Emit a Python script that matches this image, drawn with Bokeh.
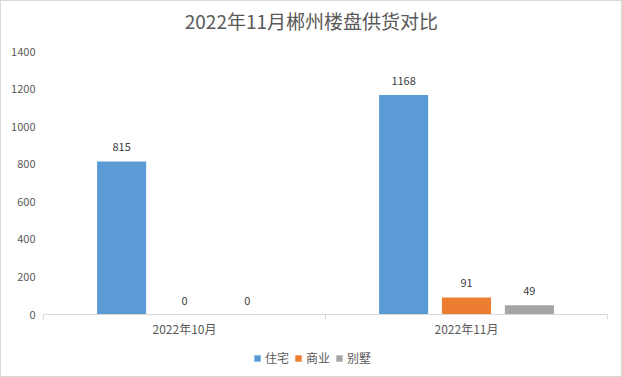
from bokeh.plotting import figure
from bokeh.models import (ColumnDataSource, FactorRange, Range1d, LinearAxis, FixedTicker,
                          LabelSet, Legend, LegendItem, Label)
from bokeh.layouts import column
from bokeh.transform import dodge
from bokeh.embed import file_html
from bokeh.resources import INLINE
from bokeh.core.properties import value

# ---- data ----
months = ["2022年10月", "2022年11月"]
series = ["住宅", "商业", "别墅"]
residential = [815, 1168]
commercial = [0, 91]
villa = [0, 49]
y_ticks = [0, 200, 400, 600, 800, 1000, 1200, 1400]
title_text = "2022年11月郴州楼盘供货对比"

colors = ["#5b9bd5", "#ed7d31", "#a5a5a5"]
FONT = "Noto Sans CJK SC"
GRID = "#d9d9d9"
TXT = "#595959"
W = 620


def strip(h):
    f = figure(width=W, height=h, output_backend="svg", toolbar_location=None,
               x_range=Range1d(0, 1), y_range=Range1d(0, 1), x_axis_type=None, y_axis_type=None,
               min_border=0, outline_line_color=None, background_fill_color="white",
               border_fill_color="white")
    f.grid.visible = False
    return f


# ---- title strip (its frame is aligned with the chart frame by the column layout) ----
p0 = strip(38)
p0.add_layout(Label(x=0.475, y=0.5, text=title_text, text_align="center", text_baseline="middle",
                    text_font=FONT, text_font_size="19px", text_color=TXT))

# ---- main chart ----
source = ColumnDataSource(dict(
    month=months,
    s0=residential, s1=commercial, s2=villa,
    t0=[str(v) for v in residential],
    t1=[str(v) for v in commercial],
    t2=[str(v) for v in villa],
))

p = figure(x_range=FactorRange(factors=months, range_padding=0),
           y_range=Range1d(y_ticks[0], y_ticks[-1]),
           width=W, height=300, output_backend="svg", toolbar_location=None,
           x_axis_type=None, y_axis_type=None,
           min_border_left=42, min_border_right=14, min_border_top=12, min_border_bottom=24,
           outline_line_color=None, background_fill_color="white", border_fill_color="white")

yaxis = LinearAxis(ticker=FixedTicker(ticks=y_ticks), axis_line_color=None,
                   major_tick_line_color=None, minor_tick_line_color=None,
                   major_tick_out=0, major_tick_in=0, major_label_standoff=8,
                   major_label_text_font=FONT, major_label_text_font_size="11px",
                   major_label_text_color=TXT)
p.add_layout(yaxis, "left")
p.ygrid.ticker = FixedTicker(ticks=y_ticks)
p.ygrid.grid_line_color = GRID
p.xgrid.visible = False

centres = [i + 0.5 for i in range(len(months))]
bounds = [i for i in range(len(months) + 1)]
xaxis = LinearAxis(ticker=FixedTicker(ticks=centres, minor_ticks=bounds),
                   major_label_overrides={c: m for c, m in zip(centres, months)},
                   axis_line_color=GRID, major_tick_line_color=None, major_tick_out=0, major_tick_in=0,
                   minor_tick_line_color=GRID, minor_tick_out=5, minor_tick_in=0,
                   major_label_standoff=0, major_label_text_font=FONT,
                   major_label_text_font_size="12px", major_label_text_color=TXT)
p.add_layout(xaxis, "below")

bar_w = 0.174
step = 0.223
for i, s in enumerate(series):
    off = (i - 1) * step
    p.vbar(x=dodge("month", off, range=p.x_range), top=f"s{i}", width=bar_w,
           source=source, fill_color=colors[i], line_color=None)
    labels = LabelSet(x=dodge("month", off, range=p.x_range), y=f"s{i}", text=f"t{i}",
                      source=source, text_align="center", text_baseline="middle",
                      y_offset=14, text_font=value(FONT), text_font_size=value("11px"),
                      text_color="#404040")
    p.add_layout(labels)

# ---- legend strip ----
p2 = strip(37)
dummy = ColumnDataSource(dict(x=[float("nan")], top=[float("nan")]))
leg_r = [p2.vbar(x="x", top="top", width=0.1, source=dummy, fill_color=c, line_color=None)
         for c in colors]
legend = Legend(items=[LegendItem(label=s, renderers=[r]) for s, r in zip(series, leg_r)],
                orientation="horizontal", location=(210, 10), border_line_color=None,
                background_fill_alpha=0, label_text_font=FONT, label_text_font_size="12px",
                label_text_color=TXT, glyph_width=8, glyph_height=8, label_standoff=4,
                spacing=5, padding=0, margin=0)
p2.add_layout(legend, "center")

layout = column(p0, p, p2, spacing=0, styles={"border": "1px solid #d9d9d9"})

open("out.html", "w").write(file_html(layout, INLINE))
